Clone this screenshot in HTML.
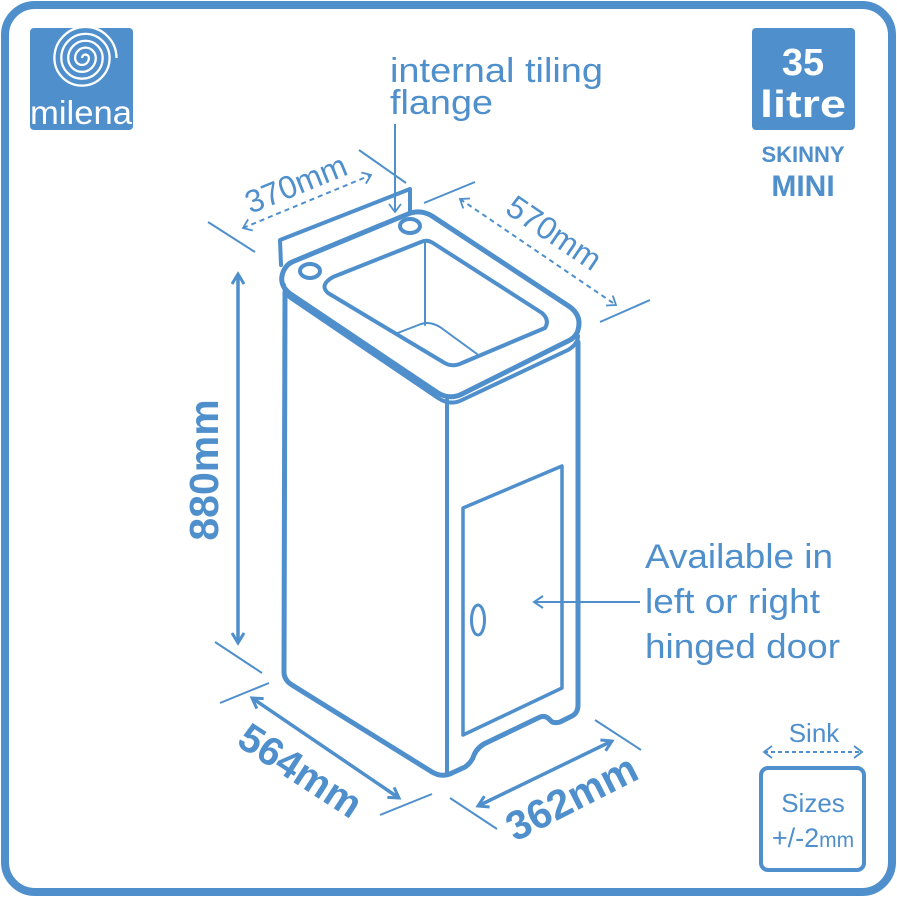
<!DOCTYPE html>
<html><head><meta charset="utf-8"><style>
html,body{margin:0;padding:0;background:#fff;}
svg{display:block;}
text{font-family:"Liberation Sans",Arial,sans-serif;fill:#4f8fcc;}
</style></head><body>
<svg width="897" height="897" viewBox="0 0 897 897" xmlns="http://www.w3.org/2000/svg">
<defs>
<marker id="ao" markerWidth="12" markerHeight="14" refX="9" refY="7" orient="auto-start-reverse" markerUnits="userSpaceOnUse"><path d="M1,1 L9,7 L1,13" fill="none" stroke="#4f8fcc" stroke-width="1.8"/></marker>
<marker id="ab" markerWidth="16" markerHeight="16" refX="12" refY="8" orient="auto-start-reverse" markerUnits="userSpaceOnUse"><path d="M2,2 L12,8 L2,14" fill="none" stroke="#4f8fcc" stroke-width="3"/></marker>
<marker id="am" markerWidth="14" markerHeight="14" refX="10" refY="7" orient="auto-start-reverse" markerUnits="userSpaceOnUse"><path d="M1,1 L10,7 L1,13" fill="none" stroke="#4f8fcc" stroke-width="2"/></marker>
</defs>
<rect x="5" y="5" width="887" height="887" rx="30" fill="none" stroke="#4f8fcc" stroke-width="8"/>

<!-- logo -->
<rect x="30" y="28" width="103" height="102" rx="4" fill="#4f8fcc"/>
<g transform="translate(82,58) scale(1.15) translate(-82,-58)">
<path d="M82,58 a3,3 0 0 1 6,0 a6,6 0 0 1 -12,0 a9,9 0 0 1 18,0 a12,12 0 0 1 -24,0 a15,15 0 0 1 30,0 a18,18 0 0 1 -36,0 a21,21 0 0 1 42,0 a24,24 0 0 1 -48,0 a27,27 0 0 1 54,0" fill="none" stroke="#fff" stroke-width="2"/>
</g>
<text x="81" y="124" font-size="33" text-anchor="middle" style="fill:#fff" textLength="102" lengthAdjust="spacingAndGlyphs">milena</text>

<!-- badge -->
<rect x="752" y="28" width="103" height="102" rx="4" fill="#4f8fcc"/>
<text x="803" y="75" font-size="38" font-weight="bold" text-anchor="middle" style="fill:#fff">35</text>
<text x="803" y="117" font-size="38" font-weight="bold" text-anchor="middle" style="fill:#fff" textLength="86" lengthAdjust="spacingAndGlyphs">litre</text>
<text x="803" y="162" font-size="22" font-weight="bold" text-anchor="middle">SKINNY</text>
<text x="803" y="196" font-size="30" font-weight="bold" text-anchor="middle">MINI</text>

<!-- labels -->
<text x="390" y="82" font-size="34" textLength="213" lengthAdjust="spacingAndGlyphs">internal tiling</text>
<text x="390" y="114" font-size="34" textLength="103" lengthAdjust="spacingAndGlyphs">flange</text>
<line x1="395" y1="124" x2="395" y2="212" stroke="#4f8fcc" stroke-width="2" marker-end="url(#ao)"/>

<text x="645" y="568" font-size="34" textLength="188" lengthAdjust="spacingAndGlyphs">Available in</text>
<text x="645" y="613" font-size="34" textLength="175" lengthAdjust="spacingAndGlyphs">left or right</text>
<text x="645" y="658" font-size="34" textLength="195" lengthAdjust="spacingAndGlyphs">hinged door</text>
<line x1="640" y1="602" x2="534" y2="602" stroke="#4f8fcc" stroke-width="2" marker-end="url(#am)"/>

<!-- cabinet -->
<g fill="none" stroke="#4f8fcc" stroke-linejoin="round" stroke-linecap="round">
<path d="M281,265 L280,240 L410,189 L410,212" stroke-width="4"/>
<path d="M292,262 L408,214 Q420,209 432,216 L570,307 Q582,316 578,330 Q576,338 566,342 L462,394 Q450,400 438,393 L292,295 Q280,287 282,276 Q284,266 292,262 Z" stroke-width="5"/>
<path d="M284,285 Q284,294 292,299 L438,398 Q450,406 462,400 L568,350 Q578,344 578,336" stroke-width="4"/>
<path d="M333,277 L421,242 Q427,239 433,243 L542,313 Q550,320 545,328 L462,363 Q452,368 443,362 L328,293 Q319,285 333,277 Z" stroke-width="4"/>
<line x1="425" y1="242" x2="425" y2="325" stroke-width="2"/>
<path d="M395,334 L421,324 Q430,321 440,327 L477,354" stroke-width="2"/>
<ellipse cx="310" cy="271" rx="10" ry="7" stroke-width="4"/>
<ellipse cx="410" cy="226" rx="10" ry="7" stroke-width="4"/>
<path d="M285,292 L284,672 Q284,680 292,685 L432,772 Q442,778 452,773 L465,767 Q472,762 474,755 Q478,746 488,742 L538,718 Q545,714 550,720 Q553,724 560,722 L572,716 Q578,713 578,705 L578,342" stroke-width="5"/>
<line x1="447" y1="400" x2="447" y2="775" stroke-width="4"/>
<path d="M463,508 L562,466 L562,688 L463,735 Z" stroke-width="3.5"/>
<ellipse cx="478" cy="620" rx="6.5" ry="15" stroke-width="3"/>
</g>

<!-- dimension lines -->
<g stroke="#4f8fcc" fill="none">
<line x1="208" y1="222" x2="255" y2="252" stroke-width="2"/>
<line x1="359" y1="150" x2="406" y2="183" stroke-width="2"/>
<line x1="243" y1="228" x2="371" y2="175" stroke-width="2" stroke-dasharray="5,4" marker-end="url(#ao)" marker-start="url(#ao)"/>
<line x1="424" y1="203" x2="475" y2="182" stroke-width="2"/>
<line x1="600" y1="322" x2="650" y2="300" stroke-width="2"/>
<line x1="460" y1="199" x2="616" y2="305" stroke-width="2" stroke-dasharray="5,4" marker-end="url(#ao)" marker-start="url(#ao)"/>
<line x1="238" y1="274" x2="238" y2="643" stroke-width="3.5" marker-end="url(#ab)" marker-start="url(#ab)"/>
<line x1="215" y1="642" x2="262" y2="673" stroke-width="2"/>
<line x1="220" y1="703" x2="269" y2="683" stroke-width="2"/>
<line x1="380" y1="815" x2="432" y2="794" stroke-width="2"/>
<line x1="252" y1="698" x2="399" y2="798" stroke-width="3.5" marker-end="url(#ab)" marker-start="url(#ab)"/>
<line x1="450" y1="798" x2="497" y2="829" stroke-width="2"/>
<line x1="595" y1="720" x2="641" y2="750" stroke-width="2"/>
<line x1="478" y1="806" x2="612" y2="741" stroke-width="3.5" marker-end="url(#ab)" marker-start="url(#ab)"/>
</g>
<text font-size="32" text-anchor="middle" transform="translate(300,194) rotate(-22)">370mm</text>
<text font-size="32" text-anchor="middle" transform="translate(548,242) rotate(34)">570mm</text>
<text font-size="41" font-weight="bold" text-anchor="middle" transform="translate(218,470) rotate(-90)">880mm</text>
<text font-size="40" font-weight="bold" text-anchor="middle" transform="translate(293,782) rotate(33)">564mm</text>
<text font-size="41" font-weight="bold" text-anchor="middle" transform="translate(578,810) rotate(-27)">362mm</text>

<!-- sink sizes box -->
<text x="814" y="742" font-size="26" text-anchor="middle">Sink</text>
<line x1="764" y1="752" x2="862" y2="752" stroke="#4f8fcc" stroke-width="2" stroke-dasharray="4,3" marker-end="url(#ao)" marker-start="url(#ao)"/>
<rect x="761" y="768" width="103" height="102" rx="7" fill="none" stroke="#4f8fcc" stroke-width="4"/>
<text x="813" y="812" font-size="26" text-anchor="middle">Sizes</text>
<text x="813" y="847" font-size="27" text-anchor="middle">+/-2<tspan font-size="21">mm</tspan></text>
</svg>
</body></html>
